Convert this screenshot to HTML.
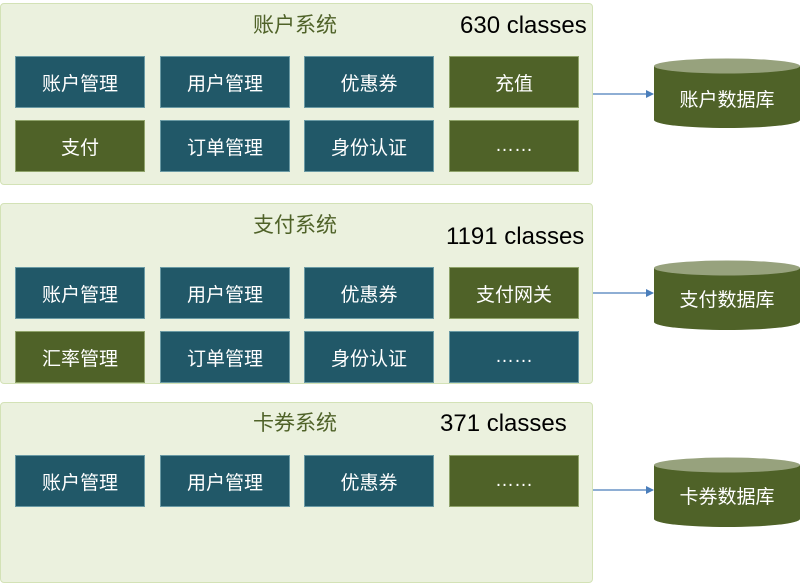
<!DOCTYPE html>
<html><head><meta charset="utf-8"><style>
body{margin:0;width:800px;height:583px;background:#fff;position:relative;overflow:hidden;font-family:"Liberation Sans","Noto Sans CJK SC",sans-serif}
.p{position:absolute;left:0;width:593px;background:#ebf1de;border:1.5px solid #d3e2b6;border-radius:4px;box-sizing:border-box}
.t{position:absolute;font-size:21px;color:#4f6228}
.c{position:absolute;font-size:24px;color:#000}
.b{position:absolute;width:130px;height:52px;color:#fff;font-size:19px;display:flex;align-items:center;justify-content:center;box-sizing:border-box;border:1px solid #8aa}
.b1{background:#215868;border-color:#6a9aa4}
.b2{background:#4f6228;border-color:#8fa36a}
</style></head><body>
<div class="p" style="top:3px;height:182px"></div>
<div class="p" style="top:203px;height:181px"></div>
<div class="p" style="top:402px;height:181px"></div>
<div class="t" style="left:253px;top:9px">账户系统</div>
<div class="c" style="left:460px;top:12px">630 classes</div>
<div class="t" style="left:253px;top:209px">支付系统</div>
<div class="c" style="left:446px;top:223px">1191 classes</div>
<div class="t" style="left:253px;top:407px">卡券系统</div>
<div class="c" style="left:440px;top:410px">371 classes</div>

<div class="b b1" style="left:15px;top:56px">账户管理</div>
<div class="b b1" style="left:160px;top:56px">用户管理</div>
<div class="b b1" style="left:304px;top:56px">优惠券</div>
<div class="b b2" style="left:449px;top:56px">充值</div>
<div class="b b2" style="left:15px;top:120px">支付</div>
<div class="b b1" style="left:160px;top:120px">订单管理</div>
<div class="b b1" style="left:304px;top:120px">身份认证</div>
<div class="b b2" style="left:449px;top:120px">……</div>

<div class="b b1" style="left:15px;top:267px">账户管理</div>
<div class="b b1" style="left:160px;top:267px">用户管理</div>
<div class="b b1" style="left:304px;top:267px">优惠券</div>
<div class="b b2" style="left:449px;top:267px">支付网关</div>
<div class="b b2" style="left:15px;top:331px">汇率管理</div>
<div class="b b1" style="left:160px;top:331px">订单管理</div>
<div class="b b1" style="left:304px;top:331px">身份认证</div>
<div class="b b1" style="left:449px;top:331px">……</div>

<div class="b b1" style="left:15px;top:455px">账户管理</div>
<div class="b b1" style="left:160px;top:455px">用户管理</div>
<div class="b b1" style="left:304px;top:455px">优惠券</div>
<div class="b b2" style="left:449px;top:455px">……</div>

<svg width="800" height="583" style="position:absolute;left:0;top:0">
<defs><marker id="a" markerWidth="8" markerHeight="8" refX="7" refY="4" orient="auto" markerUnits="userSpaceOnUse"><path d="M0,0L8,4L0,8z" fill="#4a7ebb"/></marker></defs>
<g stroke="#4a7ebb" stroke-width="1.3" marker-end="url(#a)">
<line x1="593" y1="94" x2="653" y2="94"/>
<line x1="593" y1="293" x2="653" y2="293"/>
<line x1="593" y1="490" x2="653" y2="490"/>
</g>
<g font-family="Liberation Sans, Noto Sans CJK SC, sans-serif" font-size="19" fill="#fff" text-anchor="middle">
<g>
<path d="M654,66 V120 A73,8 0 0 0 800,120 V66 Z" fill="#4f6228"/>
<ellipse cx="727" cy="66" rx="73" ry="7.5" fill="#97a27d"/>
<text x="727" y="106">账户数据库</text></g>
<g transform="translate(0,202)">
<path d="M654,66 V120 A73,8 0 0 0 800,120 V66 Z" fill="#4f6228"/>
<ellipse cx="727" cy="66" rx="73" ry="7.5" fill="#97a27d"/>
<text x="727" y="104">支付数据库</text></g>
<g transform="translate(0,399)">
<path d="M654,66 V120 A73,8 0 0 0 800,120 V66 Z" fill="#4f6228"/>
<ellipse cx="727" cy="66" rx="73" ry="7.5" fill="#97a27d"/>
<text x="727" y="104">卡券数据库</text></g>
</g>
</svg>
</body></html>
